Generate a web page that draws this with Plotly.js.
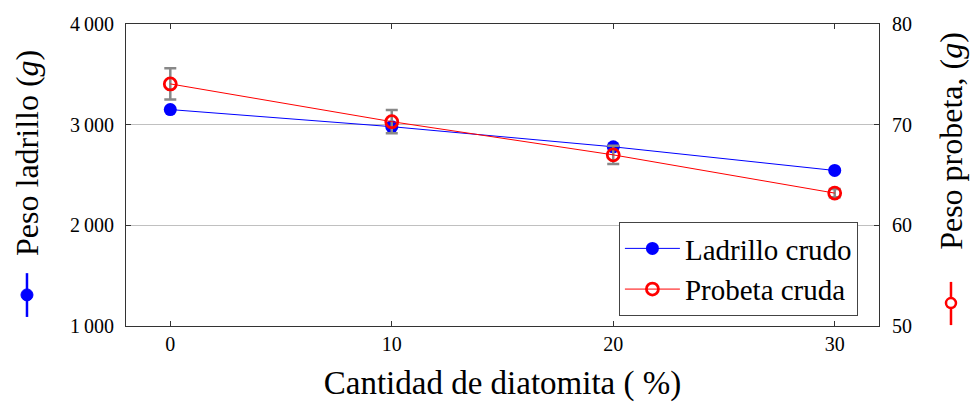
<!DOCTYPE html>
<html><head><meta charset="utf-8">
<script src="https://cdn.plot.ly/plotly-3.0.1.min.js"></script>
<style>body{margin:0;background:#fff}#c{width:971px;height:403px}</style>
</head><body><div id="c"></div>
<script>
const diatomita = [0, 10, 20, 30];
const pesoLadrillo = [3150, 2980, 2780, 2545];
const pesoProbeta = [74.05, 70.3, 67.0, 63.2];
const errProbeta = [1.55, 1.15, 0.9, 0.4];
const leftTicks = [1000, 2000, 3000, 4000];
const leftTickLabels = ["1\u2009000", "2\u2009000", "3\u2009000", "4\u2009000"];
const rightTicks = [50, 60, 70, 80];
const xTicks = [0, 10, 20, 30];

const F = "Liberation Serif, DejaVu Serif, serif";
const axisCol = "#333";

const traces = [
  {x: diatomita, y: pesoLadrillo, name: "Ladrillo crudo", type: "scatter", mode: "lines+markers",
   line: {color: "#0000ff", width: 1}, marker: {color: "#0000ff", size: 13}, yaxis: "y"},
  {x: diatomita, y: pesoProbeta, name: "Probeta cruda", type: "scatter", mode: "lines+markers",
   line: {color: "#ff0000", width: 1}, marker: {color: "rgba(0,0,0,0)", size: 12, line: {color: "#ff0000", width: 2.8}},
   error_y: {type: "data", array: errProbeta, visible: true, color: "#888", thickness: 2.5, width: 6},
   yaxis: "y2"}
];

const xl = -0.1315, xr = 1.0956;
const layout = {
  width: 971, height: 403,
  margin: {l: 126, r: 92, t: 24, b: 77},
  paper_bgcolor: "#fff", plot_bgcolor: "#fff",
  font: {family: F, color: "#000", size: 20},
  showlegend: true,
  legend: {x: 0.972, y: 0.033, xanchor: "right", yanchor: "bottom", bordercolor: "#444", borderwidth: 1,
           font: {family: F, size: 29}, bgcolor: "#fff", tracegroupgap: 0, itemwidth: 55},
  xaxis: {range: [-2, 32], tickvals: xTicks, ticks: "inside", ticklen: 5, tickcolor: axisCol,
          showline: true, linecolor: axisCol, linewidth: 1, mirror: "ticks", zeroline: false, showgrid: false,
          tickfont: {family: F, size: 20},
          title: {text: "Cantidad de diatomita ( %)", font: {family: F, size: 33}, standoff: 16}},
  yaxis: {range: [1000, 4000], tickvals: leftTicks, ticktext: leftTickLabels, ticks: "inside", ticklen: 5,
          tickcolor: axisCol, showline: true, linecolor: axisCol, linewidth: 1, mirror: true, zeroline: false,
          showgrid: true, gridcolor: "#c0c0c0", gridwidth: 1.5, tickfont: {family: F, size: 20},
          ticklabelstandoff: 7},
  yaxis2: {range: [50, 80], tickvals: rightTicks, overlaying: "y", side: "right", ticks: "inside", ticklen: 5,
           tickcolor: axisCol, showline: false, zeroline: false, showgrid: false, tickfont: {family: F, size: 20},
           ticklabelstandoff: 12},
  annotations: [
    {xref: "paper", yref: "paper", x: xl, y: 0.573, text: "Peso ladrillo (<i>g</i>)", textangle: -90,
     showarrow: false, font: {family: F, size: 32}, xanchor: "center", yanchor: "middle"},
    {xref: "paper", yref: "paper", x: xr, y: 0.613, text: "Peso probeta, (<i>g</i>)", textangle: -90,
     showarrow: false, font: {family: F, size: 32}, xanchor: "center", yanchor: "middle"}
  ],
  shapes: [
    {type: "line", xref: "paper", yref: "paper", x0: xl, x1: xl, y0: 0.03, y1: 0.175, line: {color: "#0000ff", width: 2.5}},
    {type: "circle", xref: "paper", yref: "paper", xsizemode: "pixel", ysizemode: "pixel", xanchor: xl, yanchor: 0.103,
     x0: -6, x1: 6, y0: -6, y1: 6, fillcolor: "#0000ff", line: {color: "#0000ff", width: 1}},
    {type: "line", xref: "paper", yref: "paper", x0: xr, x1: xr, y0: 0.003, y1: 0.146, line: {color: "#ff0000", width: 2.5}},
    {type: "circle", xref: "paper", yref: "paper", xsizemode: "pixel", ysizemode: "pixel", xanchor: xr, yanchor: 0.076,
     x0: -5, x1: 5, y0: -5, y1: 5, fillcolor: "#fff", line: {color: "#ff0000", width: 2.5}}
  ]
};
Plotly.newPlot("c", traces, layout, {displayModeBar: false, staticPlot: true});
</script></body></html>
